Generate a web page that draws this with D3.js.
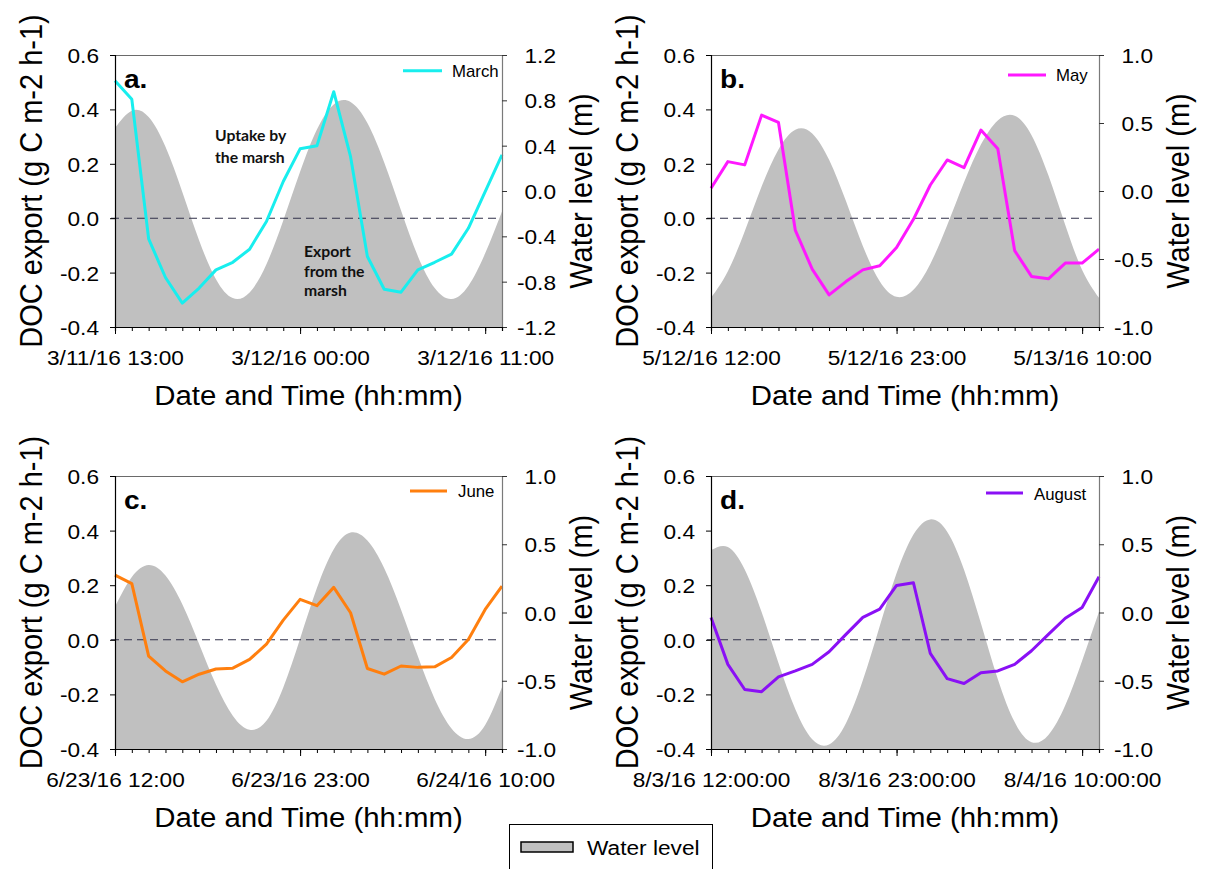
<!DOCTYPE html>
<html><head><meta charset="utf-8">
<script src="https://cdn.jsdelivr.net/npm/d3@7"></script>
<style>body{margin:0;background:#fff}svg{display:block}</style>
</head><body>
<svg id="chart" width="1207" height="869"></svg>
<script>
// ---------------- DATA ----------------
const hourOffsets = [0,1,2,3,4,5,6,7,8,9,10,11,12,13,14,15,16,17,18,19,20,21,22,23];
const majorHourOffsets = [0,11,22];

const marchStart = "2016-03-11T13:00:00";
const mayStart = "2016-05-12T12:00:00";
const juneStart = "2016-06-23T12:00:00";
const augustStart = "2016-08-03T12:00:00";

const marchTickLabels = ["3/11/16 13:00","3/12/16 00:00","3/12/16 11:00"];
const mayTickLabels = ["5/12/16 12:00","5/12/16 23:00","5/13/16 10:00"];
const juneTickLabels = ["6/23/16 12:00","6/23/16 23:00","6/24/16 10:00"];
const augustTickLabels = ["8/3/16 12:00:00","8/3/16 23:00:00","8/4/16 10:00:00"];

// DOC export (g C m-2 h-1), hourly
const marchDOC = [0.505,0.437,-0.076,-0.218,-0.312,-0.257,-0.190,-0.162,-0.114,-0.012,0.135,0.255,0.266,0.465,0.226,-0.141,-0.261,-0.272,-0.190,-0.162,-0.132,-0.037,0.098,0.233];
const mayDOC = [0.110,0.208,0.196,0.379,0.352,-0.045,-0.187,-0.282,-0.233,-0.190,-0.175,-0.108,-0.004,0.122,0.214,0.186,0.324,0.255,-0.119,-0.214,-0.223,-0.165,-0.165,-0.114];
const juneDOC = [0.237,0.206,-0.060,-0.114,-0.154,-0.126,-0.107,-0.104,-0.072,-0.016,0.072,0.148,0.125,0.192,0.099,-0.105,-0.126,-0.096,-0.101,-0.099,-0.065,0.001,0.111,0.197];
const augustDOC = [0.082,-0.090,-0.182,-0.190,-0.136,-0.114,-0.090,-0.044,0.020,0.082,0.112,0.199,0.209,-0.050,-0.142,-0.160,-0.121,-0.114,-0.090,-0.040,0.020,0.079,0.118,0.231];

// Water level (m), hourly
const marchWater = [0.556,0.708,0.652,0.390,-0.008,-0.436,-0.778,-0.945,-0.895,-0.647,-0.260,0.169,0.542,0.764,0.785,0.600,0.252,-0.172,-0.575,-0.856,-0.953,-0.838,-0.550,-0.180];
const mayWater = [-0.785,-0.590,-0.296,0.033,0.306,0.450,0.423,0.230,-0.074,-0.404,-0.663,-0.778,-0.726,-0.536,-0.252,0.064,0.341,0.519,0.554,0.410,0.115,-0.250,-0.580,-0.785];
const juneWater = [0.043,0.260,0.348,0.271,0.061,-0.230,-0.528,-0.756,-0.859,-0.793,-0.549,-0.192,0.179,0.464,0.586,0.527,0.325,0.021,-0.321,-0.633,-0.849,-0.927,-0.825,-0.548];
const augustWater = [0.457,0.480,0.315,0.004,-0.370,-0.709,-0.929,-0.967,-0.811,-0.497,-0.100,0.287,0.571,0.682,0.592,0.314,-0.079,-0.487,-0.803,-0.950,-0.897,-0.680,-0.353,0.005];

const docTicks = [-0.4,-0.2,0,0.2,0.4,0.6];
const marchWaterTicks = [-1.2,-0.8,-0.4,0,0.4,0.8,1.2];
const waterTicks = [-1.0,-0.5,0,0.5,1.0];

const seriesNames = ["March","May","June","August"];
const panelLetters = ["a.","b.","c.","d."];
const seriesColors = ["#18eeee","#ff18ff","#ff7f0e","#8a10f5"];

// ---------------- LAYOUT ----------------
const FONT = "'Liberation Sans', Arial, Helvetica, sans-serif";
const SX = 1.08;
const svg = d3.select("#chart");
const parse = d3.isoParse;

const panels = [
  {start: marchStart, doc: marchDOC, water: marchWater, labels: marchTickLabels, wDomain:[-1.2,1.2], wTicks: marchWaterTicks,
   l:115, r:502, t:55, b:327, leg:{x1:403,x2:442,y:70.7,tx:452,ty:77}},
  {start: mayStart, doc: mayDOC, water: mayWater, labels: mayTickLabels, wDomain:[-1,1], wTicks: waterTicks,
   l:711, r:1099, t:55, b:327, leg:{x1:1008,x2:1046,y:75,tx:1056,ty:81}},
  {start: juneStart, doc: juneDOC, water: juneWater, labels: juneTickLabels, wDomain:[-1,1], wTicks: waterTicks,
   l:115, r:502, t:476, b:749, leg:{x1:410,x2:447,y:491,tx:458,ty:497}},
  {start: augustStart, doc: augustDOC, water: augustWater, labels: augustTickLabels, wDomain:[-1,1], wTicks: waterTicks,
   l:711, r:1099, t:476, b:749, leg:{x1:986,x2:1023,y:493,tx:1034,ty:500}}
];

function stretchText(sel, x, y, size, anchor, weight, family) {
  return sel.attr("transform", `translate(${x},${y}) scale(${SX},1)`)
    .attr("font-family", family || FONT).attr("font-size", size)
    .attr("text-anchor", anchor || "start").attr("font-weight", weight || "normal").attr("fill", "#000");
}

panels.forEach((p, i) => {
  const g = svg.append("g");
  const t0 = parse(p.start);
  const times = hourOffsets.map(h => d3.timeHour.offset(t0, h));
  const x = d3.scaleTime().domain([times[0], times[times.length - 1]]).range([p.l, p.r]);
  const y = d3.scaleLinear().domain([-0.4, 0.6]).range([p.b, p.t]);
  const yw = d3.scaleLinear().domain(p.wDomain).range([p.b, p.t]);

  const clipId = "clip" + i;
  svg.append("clipPath").attr("id", clipId).append("rect")
    .attr("x", p.l).attr("y", p.t).attr("width", p.r - p.l).attr("height", p.b - p.t);

  // water level area
  const area = d3.area().x((d, k) => x(times[k])).y0(p.b).y1(d => yw(d)).curve(d3.curveNatural);
  g.append("path").datum(p.water).attr("d", area).attr("fill", "#c0c0c0")
    .attr("clip-path", `url(#${clipId})`);

  // zero line
  g.append("line").attr("x1", p.l - 4).attr("x2", p.r - 3).attr("y1", y(0)).attr("y2", y(0))
    .attr("stroke", "#30304a").attr("stroke-width", 1.1).attr("stroke-dasharray", "8,5");

  // frame top
  g.append("line").attr("x1", p.l).attr("x2", p.r).attr("y1", p.t + 0.5).attr("y2", p.t + 0.5)
    .attr("stroke", "#6a6a6a").attr("stroke-width", 1);

  // DOC line
  const line = d3.line().x((d, k) => x(times[k])).y(d => y(d));
  g.append("path").datum(p.doc).attr("d", line).attr("fill", "none")
    .attr("stroke", seriesColors[i]).attr("stroke-width", 3).attr("stroke-linejoin", "round");

  // left axis
  const ax = g.append("g").attr("transform", `translate(${p.l},0)`)
    .call(d3.axisLeft(y).tickValues(docTicks).tickSize(5).tickFormat(v => v.toFixed(1)));
  ax.select(".domain").attr("stroke", "#000").attr("stroke-width", 1.2);
  ax.selectAll(".tick line").attr("stroke", "#000");
  ax.selectAll(".tick text").attr("x", 0).attr("dy", 0)
    .attr("transform", `translate(-16,7.5) scale(${SX},1)`)
    .attr("font-family", FONT).attr("font-size", 21).attr("fill", "#000").attr("text-anchor", "end");

  // right axis
  const axr = g.append("g").attr("transform", `translate(${p.r},0)`)
    .call(d3.axisRight(yw).tickValues(p.wTicks).tickSize(5).tickFormat(v => v.toFixed(1)));
  axr.select(".domain").attr("stroke", "#7a7a7a").attr("stroke-width", 1.2);
  axr.selectAll(".tick line").attr("stroke", "#333");
  axr.selectAll(".tick text").attr("x", 0).attr("dy", 0)
    .attr("transform", `translate(54,7.5) scale(${SX},1)`)
    .attr("font-family", FONT).attr("font-size", 21).attr("fill", "#000").attr("text-anchor", "end");

  // bottom axis: minor hourly ticks
  const axm = g.append("g").attr("transform", `translate(0,${p.b})`)
    .call(d3.axisBottom(x).tickValues(times).tickSize(4).tickFormat(""));
  axm.select(".domain").attr("stroke", "#000").attr("stroke-width", 1.2);
  axm.selectAll(".tick line").attr("stroke", "#000");
  // major ticks with labels
  const majors = majorHourOffsets.map(h => d3.timeHour.offset(t0, h));
  const axb = g.append("g").attr("transform", `translate(0,${p.b})`)
    .call(d3.axisBottom(x).tickValues(majors).tickSize(7).tickFormat((d, k) => p.labels[k]));
  axb.select(".domain").remove();
  axb.selectAll(".tick line").attr("stroke", "#000");
  axb.selectAll(".tick text").attr("y", 0).attr("dy", 0)
    .attr("transform", `translate(0,38) scale(${SX},1)`)
    .attr("font-family", FONT).attr("font-size", 21).attr("fill", "#000").attr("text-anchor", "middle");

  // axis titles
  const cx = (p.l + p.r) / 2, cy = (p.t + p.b) / 2;
  g.append("text").text("Date and Time (hh:mm)")
    .attr("transform", `translate(${cx},${p.b + 78}) scale(1.05,1)`)
    .attr("font-family", FONT).attr("font-size", 28).attr("text-anchor", "middle").attr("fill", "#000");
  g.append("text").text("DOC export (g C m-2 h-1)")
    .attr("transform", `translate(${p.l - 73},${cy - 10}) rotate(-90) scale(1,1.05)`)
    .attr("font-family", FONT).attr("font-size", 29).attr("text-anchor", "middle").attr("fill", "#000");
  g.append("text").text("Water level (m)")
    .attr("transform", `translate(${p.r + 90},${cy}) rotate(-90) scale(1,1.05)`)
    .attr("font-family", FONT).attr("font-size", 29).attr("text-anchor", "middle").attr("fill", "#000");

  // panel letter
  stretchText(g.append("text").text(panelLetters[i]), p.l + 9, p.t + 33, 26, "start", "bold");

  // legend
  g.append("line").attr("x1", p.leg.x1).attr("x2", p.leg.x2).attr("y1", p.leg.y).attr("y2", p.leg.y)
    .attr("stroke", seriesColors[i]).attr("stroke-width", 3);
  g.append("text").text(seriesNames[i])
    .attr("transform", `translate(${p.leg.tx},${p.leg.ty}) scale(1.05,1)`)
    .attr("font-family", FONT).attr("font-size", 16).attr("fill", "#000");
});

// annotations in panel a
const ANN = "Lato, 'Open Sans', sans-serif";
[["Uptake by",215,141],["the marsh",215,163],["Export",304,257],["from the",304,277],["marsh",304,296]]
  .forEach(([s, ax, ay]) => {
    svg.append("text").text(s)
      .attr("transform", `translate(${ax},${ay}) scale(1.05,1)`)
      .attr("font-family", ANN).attr("font-size", 15).attr("font-weight", "bold").attr("fill", "#111");
  });

// bottom legend for water level
const lg = svg.append("g");
lg.append("rect").attr("x", 509.5).attr("y", 824.5).attr("width", 203).attr("height", 60)
  .attr("fill", "#fff").attr("stroke", "#000").attr("stroke-width", 1);
lg.append("rect").attr("x", 521).attr("y", 842).attr("width", 52).attr("height", 10)
  .attr("fill", "#c0c0c0").attr("stroke", "#000").attr("stroke-width", 1.5);
lg.append("text").text("Water level")
  .attr("transform", `translate(587,855) scale(${SX},1)`)
  .attr("font-family", FONT).attr("font-size", 21).attr("fill", "#000");
</script>
</body></html>
